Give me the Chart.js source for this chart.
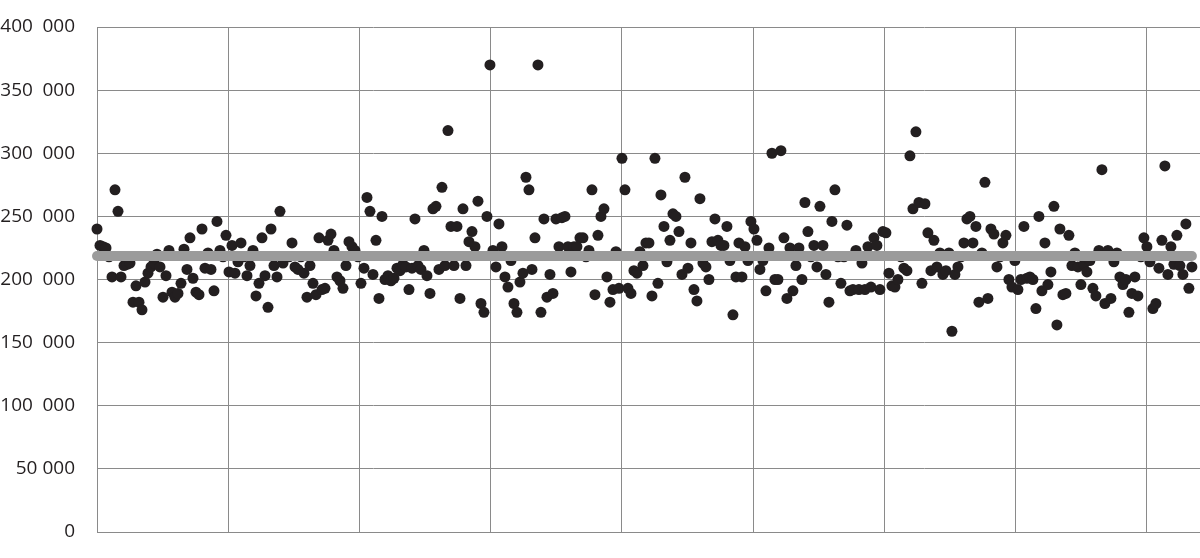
<!DOCTYPE html>
<html>
<head>
<meta charset="utf-8">
<title>Scatter</title>
<script src="https://cdn.jsdelivr.net/npm/chart.js@4/dist/chart.umd.min.js"></script>
<style>
  html, body { margin: 0; padding: 0; background: #fff; }
  #wrap { width: 1200px; height: 558px; }
</style>
</head>
<body>
<div id="wrap"><canvas id="ScatterChart" width="1200" height="558"></canvas></div>
<script>
// daily values (thousands) left to right
const dailyValues = [
  240, 227, 226, 225, 218, 202, 271, 254, 202, 211, 212, 213, 182, 195, 182, 176, 198, 205, 210, 213,
  220, 210, 186, 203, 223, 190, 186, 189, 197, 224, 208, 233, 201, 190, 188, 240, 209, 221, 208, 191,
  246, 223, 218, 235, 206, 227, 205, 214, 229, 218, 203, 211, 223, 187, 197, 233, 203, 178, 240, 211,
  202, 254, 213, 218, 218, 229, 210, 208, 218, 205, 186, 211, 197, 188, 233, 192, 193, 231, 236, 223,
  202, 199, 193, 211, 230, 226, 223, 218, 197, 209, 265, 254, 204, 231, 185, 250, 200, 203, 199, 201,
  209, 207, 212, 210, 192, 209, 248, 211, 208, 223, 203, 189, 256, 258, 208, 273, 211, 318, 242, 211,
  242, 185, 256, 211, 230, 238, 226, 262, 181, 174, 250, 370, 223, 210, 244, 226, 202, 194, 215, 181,
  174, 198, 205, 281, 271, 208, 233, 370, 174, 248, 186, 204, 189, 248, 226, 249, 250, 226, 206, 226,
  226, 233, 233, 218, 223, 271, 188, 235, 250, 256, 202, 182, 192, 222, 193, 296, 271, 193, 189, 207,
  205, 222, 211, 229, 229, 187, 296, 197, 267, 242, 214, 231, 252, 250, 238, 204, 281, 209, 229, 192,
  183, 264, 213, 210, 200, 230, 248, 231, 227, 227, 242, 215, 172, 202, 229, 202, 226, 215, 246, 240,
  231, 208, 215, 191, 225, 300, 200, 200, 302, 233, 185, 225, 191, 211, 225, 200, 261, 238, 218, 227,
  210, 258, 227, 204, 182, 246, 271, 218, 197, 218, 243, 191, 192, 223, 192, 213, 192, 226, 194, 233,
  227, 192, 238, 237, 205, 195, 194, 200, 218, 209, 207, 298, 256, 317, 261, 197, 260, 237, 207, 231,
  210, 221, 204, 207, 221, 159, 204, 210, 218, 229, 248, 250, 229, 242, 182, 221, 277, 185, 240, 236,
  210, 218, 229, 235, 200, 194, 215, 192, 200, 242, 201, 202, 200, 177, 250, 191, 229, 196, 206, 258,
  164, 240, 188, 189, 235, 211, 221, 210, 196, 212, 206, 215, 193, 187, 223, 287, 181, 223, 185, 214,
  221, 202, 196, 200, 174, 189, 202, 187, 218, 233, 226, 214, 177, 181, 209, 231, 290, 204, 226, 212,
  235, 211, 204, 244, 193, 210
];
// average level
const averageValue = 218600;
// y axis tick values
const yTicks = [0, 50000, 100000, 150000, 200000, 250000, 300000, 350000, 400000];
// x grid every ~43.75 days
const xGridStep = 43.75;

const points = dailyValues.map(function (v, i) { return { x: i + 1, y: v * 1000 }; });
const avgLine = [{ x: 1, y: averageValue }, { x: dailyValues.length, y: averageValue }];

function formatTick(v) {
  if (v === 0) return "0";
  var sep = v >= 100000 ? "\u2002" : " ";
  return Math.round(v / 1000) + sep + "000";
}

var ctx = document.getElementById("ScatterChart").getContext("2d");
var ScatterChart = new Chart(ctx, {
  type: "scatter",
  data: {
    datasets: [
      {
        type: "line",
        data: avgLine,
        borderColor: "#9b9b9b",
        borderWidth: 10,
        borderCapStyle: "round",
        pointRadius: 0,
        fill: false,
        clip: false,
        order: 0,
      },
      {
        data: points,
        backgroundColor: "#231f20",
        borderColor: "#231f20",
        borderWidth: 0,
        pointRadius: 5.5,
        clip: false,
        order: 1,
      },
    ],
  },
  options: {
    responsive: false,
    animation: false,
    layout: { autoPadding: false, padding: { top: 27, right: 0, bottom: 26, left: 0 } },
    plugins: { legend: { display: false }, tooltip: { enabled: false } },
    scales: {
      x: {
        type: "linear",
        min: 1,
        max: 368.7,
        afterBuildTicks: function (scale) {
          var t = [];
          for (var k = 0; k < 9; k++) t.push({ value: 1 + k * xGridStep });
          scale.ticks = t;
        },
        ticks: { display: false },
        grid: { color: "#8a8a8a", lineWidth: 1, drawTicks: false },
        border: { color: "#8a8a8a", width: 1 },
      },
      y: {
        min: 0,
        max: 400000,
        afterBuildTicks: function (scale) {
          scale.ticks = yTicks.map(function (v) { return { value: v }; });
        },
        afterFit: function (scale) {
          scale.width = 97;
          scale.paddingTop = 0;
          scale.paddingBottom = 0;
        },
        ticks: {
          padding: 22,
          color: "#231f20",
          font: { family: "'Open Sans', sans-serif", size: 19 },
          callback: formatTick,
        },
        grid: { color: "#8a8a8a", lineWidth: 1, drawTicks: false },
        border: { color: "#8a8a8a", width: 1 },
      },
    },
  },
});
</script>
</body>
</html>
